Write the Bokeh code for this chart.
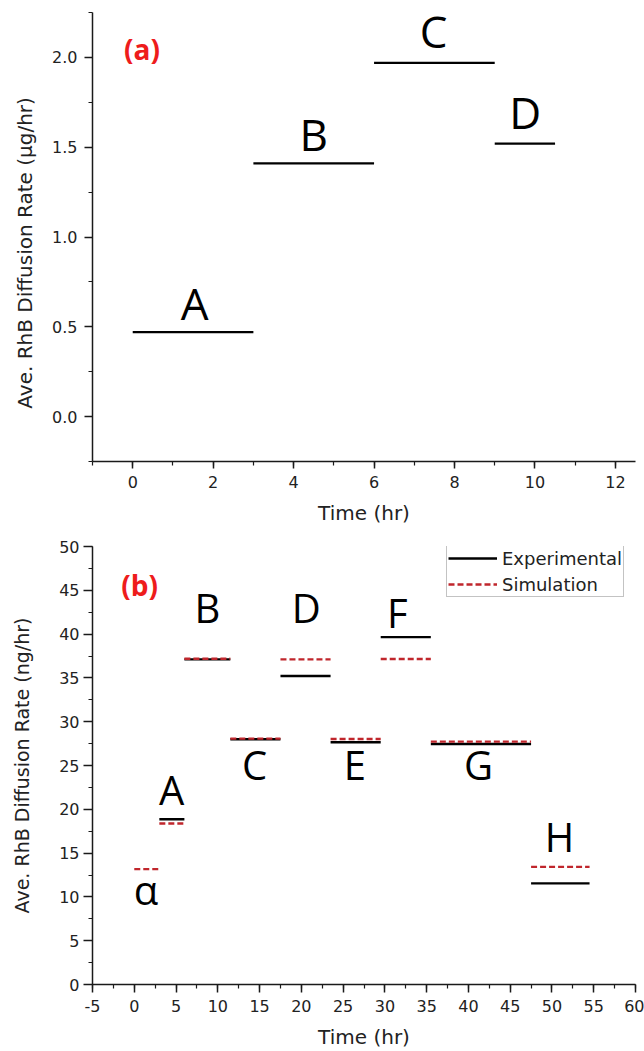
from bokeh.plotting import figure
from bokeh.models import Range1d, SingleIntervalTicker, PrintfTickFormatter, ColumnDataSource
from bokeh.layouts import column
from bokeh.core.properties import value
from bokeh.embed import file_html
from bokeh.resources import INLINE

# ---------------- panel (a) data ----------------
a_names = ["A", "B", "C", "D"]
a_start = [0, 3, 6, 9]
a_end = [3, 6, 9, 10.5]
a_rate = [0.47, 1.41, 1.97, 1.52]          # ug/hr
a_label_x = [1.54, 4.5, 7.48, 9.76]
a_label_y = [0.635, 1.571, 2.148, 1.694]

# ---------------- panel (b) data ----------------
b_names = ["\u03b1", "A", "B", "C", "D", "E", "F", "G", "H"]
b_start = [0, 3, 6, 11.5, 17.5, 23.5, 29.5, 35.5, 47.5]
b_end = [3, 6, 11.5, 17.5, 23.5, 29.5, 35.5, 47.5, 54.5]
b_sim = [13.17, 18.38, 37.19, 28.07, 37.12, 28.03, 37.15, 27.73, 13.43]   # ng/hr
# experimental has no value for period alpha
b_exp = [None, 18.87, 37.12, 27.99, 35.21, 27.65, 39.66, 27.46, 11.54]
b_label_x = [1.4, 4.46, 8.77, 14.4, 20.6, 26.4, 31.5, 41.2, 50.9]
b_label_y = [10.9, 22.3, 43.0, 25.1, 43.0, 25.1, 42.5, 25.1, 16.9]

RED_DASH = "#c0262c"
RED_TAG = "#ee1c1c"
AX = "#1a1a1a"
TXT = "#222222"


def style_axis(ax, tick_out, label_size, label_standoff, major_standoff):
    ax.axis_line_width = 1.5
    ax.axis_line_color = AX
    ax.major_tick_line_color = AX
    ax.minor_tick_line_color = AX
    ax.major_tick_line_width = 1.5
    ax.minor_tick_line_width = 1.2
    ax.major_tick_in = 0
    ax.minor_tick_in = 0
    ax.major_tick_out = tick_out
    ax.minor_tick_out = 4
    ax.major_label_text_font = "DejaVu Sans"
    ax.major_label_text_font_size = "16px"
    ax.major_label_text_color = TXT
    ax.major_label_standoff = major_standoff
    ax.axis_label_text_font = "DejaVu Sans"
    ax.axis_label_text_font_size = label_size
    ax.axis_label_text_font_style = "normal"
    ax.axis_label_text_color = TXT
    ax.axis_label_standoff = label_standoff


# ================= panel (a) =================
p1 = figure(width=644, height=529, x_range=Range1d(-1, 12.5), y_range=Range1d(-0.25, 2.25),
            output_backend="svg", toolbar_location=None,
            min_border_left=88, min_border_right=6, min_border_top=12, min_border_bottom=68)
p1.outline_line_color = None
p1.grid.visible = False

p1.xaxis.ticker = SingleIntervalTicker(interval=2, num_minor_ticks=2)
p1.yaxis.ticker = SingleIntervalTicker(interval=0.5, num_minor_ticks=2)
p1.yaxis.formatter = PrintfTickFormatter(format="%.1f")
p1.xaxis.formatter = PrintfTickFormatter(format="%d")
p1.xaxis.axis_label = "Time (hr)"
# trailing no-break spaces nudge the centred label slightly downward, as in the original
p1.yaxis.axis_label = "Ave. RhB Diffusion Rate (\u03bcg/hr)" + "\u00a0" * 5
style_axis(p1.xaxis[0], 7, "20px", 10, 7)
style_axis(p1.yaxis[0], 8, "20px", 12, 7)

src_a = ColumnDataSource(dict(x0=a_start, x1=a_end, y=a_rate))
p1.segment(x0="x0", y0="y", x1="x1", y1="y", source=src_a, line_color="black", line_width=2.2)

src_al = ColumnDataSource(dict(x=a_label_x, y=a_label_y, t=a_names))
p1.text(x="x", y="y", text="t", source=src_al, text_font=value("Open Sans"),
        text_font_size="44px", text_align="center", text_baseline="middle", text_color="black")
p1.text(x=[0.23], y=[2.047], text=["(a)"], text_font=value("Open Sans"), text_font_style="bold",
        text_font_size="28px", text_align="center", text_baseline="middle", text_color=RED_TAG)

# ================= panel (b) =================
p2 = figure(width=644, height=522, x_range=Range1d(-5, 60), y_range=Range1d(0, 50),
            output_backend="svg", toolbar_location=None,
            min_border_left=92, min_border_right=9, min_border_top=17, min_border_bottom=67)
p2.outline_line_color = None
p2.grid.visible = False

p2.xaxis.ticker = SingleIntervalTicker(interval=5, num_minor_ticks=2)
p2.yaxis.ticker = SingleIntervalTicker(interval=5, num_minor_ticks=2)
p2.xaxis.formatter = PrintfTickFormatter(format="%d")
p2.yaxis.formatter = PrintfTickFormatter(format="%d")
p2.xaxis.axis_label = "Time (hr)"
p2.yaxis.axis_label = "Ave. RhB Diffusion Rate (ng/hr)"
style_axis(p2.xaxis[0], 8, "20px", 10, 7)
style_axis(p2.yaxis[0], 9, "19px", 23, 4)

exp_idx = [i for i, v in enumerate(b_exp) if v is not None]
src_exp = ColumnDataSource(dict(x0=[b_start[i] for i in exp_idx], x1=[b_end[i] for i in exp_idx],
                                y=[b_exp[i] for i in exp_idx]))
src_sim = ColumnDataSource(dict(x0=b_start, x1=b_end, y=b_sim))
p2.segment(x0="x0", y0="y", x1="x1", y1="y", source=src_exp, line_color="black",
           line_width=2.4, legend_label="Experimental")
p2.segment(x0="x0", y0="y", x1="x1", y1="y", source=src_sim, line_color=RED_DASH,
           line_width=2.4, line_dash="6 3", legend_label="Simulation")

src_bl = ColumnDataSource(dict(x=b_label_x, y=b_label_y, t=b_names))
p2.text(x="x", y="y", text="t", source=src_bl, text_font=value("Open Sans"),
        text_font_size="40px", text_align="center", text_baseline="middle", text_color="black")
p2.text(x=[0.65], y=[45.55], text=["(b)"], text_font=value("Open Sans"), text_font_style="bold",
        text_font_size="28px", text_align="center", text_baseline="middle", text_color=RED_TAG)

lg = p2.legend[0]
lg.location = (354, 387)
lg.padding = 1
lg.spacing = 4
lg.margin = 0
lg.label_height = 22
lg.glyph_height = 22
lg.glyph_width = 49
lg.label_standoff = 5
lg.label_text_font = "DejaVu Sans"
lg.label_text_font_size = "18px"
lg.label_text_color = TXT
lg.border_line_color = "#888888"
lg.border_line_width = 1
lg.background_fill_color = "white"
lg.background_fill_alpha = 1.0

layout = column(p1, p2)
open("out.html", "w").write(file_html(layout, INLINE))
